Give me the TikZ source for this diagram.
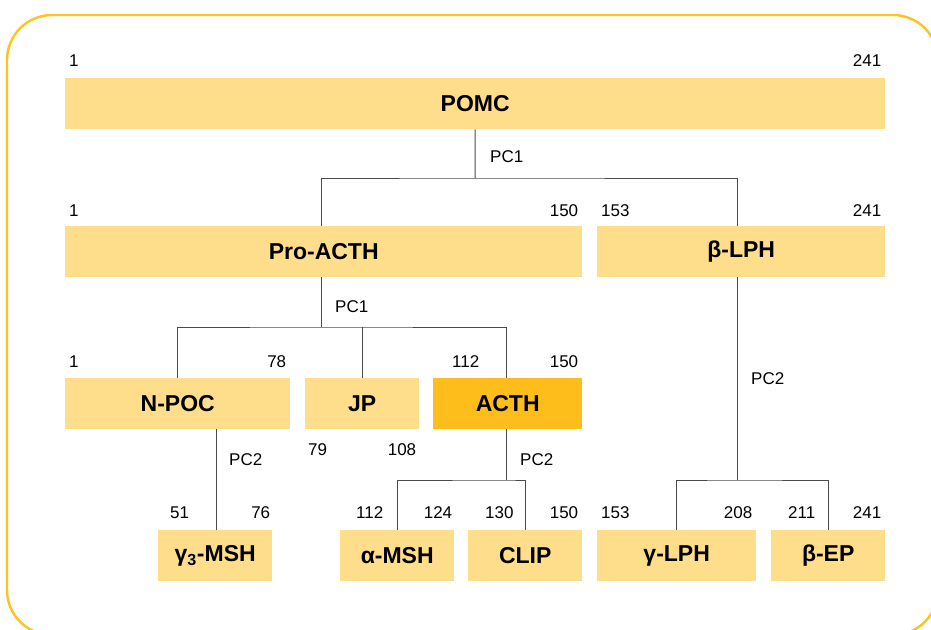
\documentclass[tikz,border=0pt]{standalone}
\usepackage{fontspec}
\setmainfont{Liberation Sans}
\usepackage{tikz}
\usetikzlibrary{positioning}

\definecolor{barlight}{HTML}{FEDE8A}
\definecolor{barstrong}{HTML}{FDBD1B}
\definecolor{frameline}{HTML}{FFC21F}
\definecolor{linkgray}{HTML}{4A4A4A}

\begin{document}
\begin{tikzpicture}[x=1pt,y=-1pt,
    bar/.style={fill=barlight, draw=none, inner sep=0pt, minimum height=51pt,
      anchor=north west, font=\fontsize{23}{23}\selectfont\bfseries},
    num/.style={inner sep=0pt, font=\fontsize{17}{17}\selectfont},
    link/.style={draw=linkgray, line width=1pt}]
    \clip (0,0) rectangle (931,629);

    % FRAME
    \draw[frameline, line width=2.4pt, rounded corners=45pt] (7,15) rectangle (938,635);

    % FIRST LAYER
    \node[bar, minimum width=820pt] (POMC) at (65,78) {POMC};

    % SECOND LAYER
    \node[bar, minimum width=517pt] (PRO_ACTH) at (65,226) {Pro-ACTH};
    \node[bar, minimum width=288pt] (B_LPH) at (597,226) {β-LPH};

    % THIRD LAYER
    \node[bar, minimum width=225pt] (N_POC) at (65,378) {N-POC};
    \node[bar, minimum width=114pt] (JP) at (305,378) {JP};
    \node[bar, minimum width=149pt, fill=barstrong] (ACTH) at (433,378) {ACTH};

    % FOURTH LAYER
    \node[bar, minimum width=114pt] (G3_MSH) at (158,530) {γ\textsubscript{3}-MSH};
    \node[bar, minimum width=114pt] (A_MSH) at (340,530) {α-MSH};
    \node[bar, minimum width=114pt] (CLIP) at (468,530) {CLIP};
    \node[bar, minimum width=159pt] (G_LPH) at (597,530) {γ-LPH};
    \node[bar, minimum width=114pt] (B_EP) at (771,530) {β-EP};

    % RESIDUES
    \node[num, anchor=west] at ([shift={(4,-17)}]POMC.north west) {1};
    \node[num, anchor=east] at ([shift={(-4,-17)}]POMC.north east) {241};
    \node[num, anchor=west] at ([shift={(4,-15)}]PRO_ACTH.north west) {1};
    \node[num, anchor=east] at ([shift={(-4,-15)}]PRO_ACTH.north east) {150};
    \node[num, anchor=west] at ([shift={(4,-15)}]B_LPH.north west) {153};
    \node[num, anchor=east] at ([shift={(-4,-15)}]B_LPH.north east) {241};
    \node[num, anchor=west] at ([shift={(4,-16)}]N_POC.north west) {1};
    \node[num, anchor=east] at ([shift={(-4,-16)}]N_POC.north east) {78};
    \node[num, anchor=west] at ([shift={(3,20)}]JP.south west) {79};
    \node[num, anchor=east] at ([shift={(-3,20)}]JP.south east) {108};
    \node[num, anchor=west] at ([shift={(19,-16)}]ACTH.north west) {112};
    \node[num, anchor=east] at ([shift={(-4,-16)}]ACTH.north east) {150};
    \node[num, anchor=west] at ([shift={(12,-17)}]G3_MSH.north west) {51};
    \node[num, anchor=east] at ([shift={(-2,-17)}]G3_MSH.north east) {76};
    \node[num, anchor=west] at ([shift={(16,-17)}]A_MSH.north west) {112};
    \node[num, anchor=east] at ([shift={(-2,-17)}]A_MSH.north east) {124};
    \node[num, anchor=west] at ([shift={(17,-17)}]CLIP.north west) {130};
    \node[num, anchor=east] at ([shift={(-4,-17)}]CLIP.north east) {150};
    \node[num, anchor=west] at ([shift={(4,-17)}]G_LPH.north west) {153};
    \node[num, anchor=east] at ([shift={(-4,-17)}]G_LPH.north east) {208};
    \node[num, anchor=west] at ([shift={(17,-17)}]B_EP.north west) {211};
    \node[num, anchor=east] at ([shift={(-4,-17)}]B_EP.north east) {241};

    % LINES
    \coordinate (SPLIT_1) at (475,178);
    \coordinate (SPLIT_2) at (321,327);
    \coordinate (SPLIT_3) at (506,480);
    \coordinate (SPLIT_4) at (737,480);
    \coordinate (NPOC_OUT) at (216,429);

    \draw[link] (POMC.south) -- (SPLIT_1);
    \draw[link] (PRO_ACTH.north -| SPLIT_2) |- (SPLIT_1) -| (B_LPH.north -| SPLIT_4);

    \draw[link] (PRO_ACTH.south -| SPLIT_2) -- (SPLIT_2);
    \draw[link] (N_POC.north) |- (SPLIT_2) -| (ACTH.north -| SPLIT_3);
    \draw[link] (JP.north) -- (JP.north |- SPLIT_2);

    \draw[link] (NPOC_OUT) -- (G3_MSH.north -| NPOC_OUT);
    \draw[link] (ACTH.south -| SPLIT_3) -- (SPLIT_3);
    \draw[link] (A_MSH.north) |- (SPLIT_3) -| (CLIP.north);
    \draw[link] (B_LPH.south -| SPLIT_4) -- (SPLIT_4);
    \draw[link] (G_LPH.north) |- (SPLIT_4) -| (B_EP.north);

    % CLEAVAGE
    \begin{scope}[every node/.style={num, anchor=west}]
      \node (PC1_TOP) at (490,157) {PC1};
      \node (PC1_MID) at (335,307) {PC1};
      \node (PC2_NPOC) at (229,460) {PC2};
      \node (PC2_ACTH) at (520,460) {PC2};
      \node (PC2_BLPH) at (751,379) {PC2};
    \end{scope}
  \end{tikzpicture}
\end{document}
